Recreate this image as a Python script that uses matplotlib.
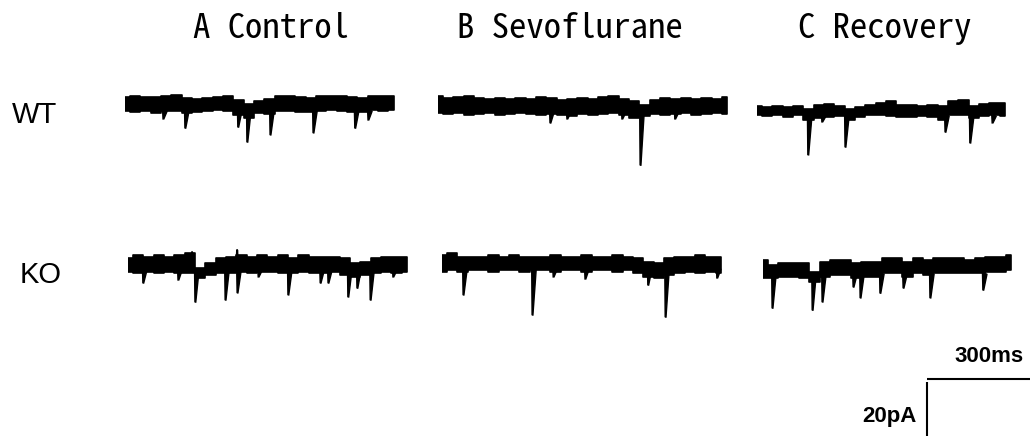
import numpy as np
import matplotlib
matplotlib.use("Agg")
import matplotlib.pyplot as plt

# traces: envelope of the baseline noise (pA, sampled every 25 ms) + events (ms, pA)
STEP_MS = 25

WT_CTRL_TOP = [2.4, 2.6, 2.4, 2.4, 2.6, 2.9, 2.1, 1.8, 2.1, 2.4, 2.6, 1.5, 0.3, 1.2,
               1.8, 2.6, 2.6, 2.4, 2.1, 2.6, 2.6, 2.6, 2.4, 2.1, 2.6, 2.6, 2.6]
WT_CTRL_BOT = [-1.8, -2.1, -1.8, -2.4, -1.8, -1.8, -2.4, -2.1, -1.8, -1.5, -1.8, -2.9, -3.8, -2.4,
               -2.6, -1.8, -1.8, -2.1, -2.1, -1.8, -1.5, -1.8, -2.1, -2.1, -1.5, -1.8, -1.5]
WT_CTRL_EV = [(92, -4.1), (145, -6.8), (273, -6.5), (295, -10.9), (351, -8.8),
              (455, -8.2), (556, -6.8), (588, -4.4)]

WT_SEVO_TOP = [2.9, 2.4, 2.6, 2.9, 2.4, 2.1, 2.4, 2.1, 2.4, 2.1, 2.6, 2.4, 1.8, 2.1, 2.4,
               2.1, 2.6, 2.9, 2.1, 1.5, 0.3, 1.8, 2.4, 2.1, 2.4, 2.1, 2.4, 2.1, 2.6]
WT_SEVO_BOT = [-2.1, -2.4, -2.1, -2.6, -2.4, -2.1, -2.6, -2.4, -2.1, -2.4, -2.6, -2.4, -2.6, -2.9, -2.4,
               -2.6, -2.4, -2.1, -2.6, -3.5, -3.0, -2.4, -2.6, -2.4, -2.1, -2.6, -2.4, -2.1, -2.4]
WT_SEVO_EV = [(271, -5.0), (312, -3.8), (445, -3.8), (489, -17.4), (573, -3.8)]

WT_REC_TOP = [1.2, 0.9, 1.2, 0.9, 1.2, 0.3, 1.5, 1.8, 1.2, 0.3, 0.9, 1.5, 2.1,
              2.6, 1.5, 1.5, 1.2, 1.5, 1.2, 2.6, 2.9, 1.2, 1.8, 2.1, 2.1]
WT_REC_BOT = [-1.5, -1.8, -1.5, -2.1, -1.5, -2.9, -2.4, -2.1, -1.8, -2.9, -2.1, -1.5, -1.5,
              -1.8, -2.1, -2.1, -1.8, -2.1, -2.9, -1.5, -1.5, -2.4, -1.8, -1.5, -1.8]
WT_REC_EV = [(123, -13.2), (157, -3.5), (213, -10.9), (455, -6.5), (515, -9.7), (569, -3.8)]

KO_CTRL_TOP = [1.7, 2.6, 2.1, 2.6, 2.1, 2.6, 3.1, -1.3, 0.2, 1.7, 2.1, 2.6, 2.1, 2.6,
               2.1, 2.6, 1.7, 2.6, 2.1, 2.1, 2.1, 1.7, 0.2, 0.7, 1.7, 2.1, 2.1, 2.1]
KO_CTRL_BOT = [-2.3, -2.7, -2.3, -2.7, -2.3, -2.7, -2.7, -4.2, -3.2, -2.7, -2.7, -2.3, -2.7, -2.3,
               -2.3, -2.7, -2.7, -2.3, -2.7, -2.7, -2.3, -3.2, -3.7, -3.2, -2.7, -2.3, -2.7, -2.3]
KO_CTRL_EV = [(36, -5.6), (121, -4.7), (155, 3.5), (162, -11.2), (235, -10.6), (264, -8.5),
              (264, 4.1), (315, -3.8), (387, -9.1), (465, -5.6), (484, -5.6), (532, -9.7),
              (554, -7.1), (586, -10.6), (641, -3.8)]

KO_SEVO_TOP = [2.4, 2.9, 1.9, 1.9, 1.9, 2.4, 1.9, 2.4, 1.9, 1.9, 1.9, 2.4, 1.9, 1.9,
               2.4, 1.9, 1.9, 2.4, 1.9, 1.4, 0.4, -0.1, 1.4, 1.9, 1.9, 2.4, 1.9, 1.9]
KO_SEVO_BOT = [-2.6, -2.1, -2.6, -2.1, -2.1, -2.6, -2.1, -2.1, -2.6, -2.1, -2.1, -2.6, -2.1, -2.1,
               -2.6, -2.1, -2.1, -2.6, -2.1, -3.0, -4.0, -4.5, -3.5, -3.0, -2.6, -3.0, -2.6, -3.0]
KO_SEVO_EV = [(51, -9.4), (218, -15.3), (269, -4.1), (346, -4.7), (498, -6.5), (540, -15.9), (665, -4.4)]

KO_REC_TOP = [2.4, 0.9, 1.4, 1.4, 1.4, -1.1, 1.9, 2.4, 2.4, 1.4, 1.9, 1.9, 2.9,
              2.9, 1.9, 2.9, 2.4, 2.9, 2.9, 2.9, 2.4, 2.9, 3.3, 3.3, 3.8]
KO_REC_BOT = [-3.0, -3.0, -2.6, -2.6, -3.0, -4.0, -2.6, -2.1, -2.1, -3.0, -2.6, -2.6, -1.6,
              -1.6, -2.6, -1.6, -2.1, -1.6, -1.6, -1.6, -1.6, -1.6, -1.1, -1.1, -0.6]
KO_REC_EV = [(22, -11.8), (119, -12.4), (143, -10.0), (218, -5.6), (235, -8.8),
             (283, -7.4), (339, -5.9), (404, -8.8), (532, -6.5)]

TITLES = ["A Control", "B Sevoflurane", "C Recovery"]
ROWS = ["WT", "KO"]
SCALE_MS = 300
SCALE_PA = 20

# layout (pixels)
W, H = 1030, 436
MS_PX = 0.4133   # px per ms
PA_PX = 3.4      # px per pA
# (trace start x, baseline y) for each panel
PANELS = [
    (WT_CTRL_TOP, WT_CTRL_BOT, WT_CTRL_EV, 125, 105),
    (WT_SEVO_TOP, WT_SEVO_BOT, WT_SEVO_EV, 438, 106),
    (WT_REC_TOP, WT_REC_BOT, WT_REC_EV, 757, 110),
    (KO_CTRL_TOP, KO_CTRL_BOT, KO_CTRL_EV, 128, 264),
    (KO_SEVO_TOP, KO_SEVO_BOT, KO_SEVO_EV, 442, 263),
    (KO_REC_TOP, KO_REC_BOT, KO_REC_EV, 763, 268),
]

fig = plt.figure(figsize=(W / 100, H / 100), dpi=100)


def px_axes(left, top, width, height):
    ax = fig.add_axes([left / W, 1 - (top + height) / H, width / W, height / H])
    ax.set_axis_off()
    return ax


for top, bot, events, x0, yc in PANELS:
    ax = px_axes(x0, yc - 40, 300, 110)
    ax.set_xlim(0, 300 / MS_PX)
    ax.set_ylim(-70 / PA_PX, 40 / PA_PX)
    t = np.arange(len(top)) * STEP_MS
    ax.fill_between(t, bot, top, step="mid", color="black", lw=1.2, edgecolor="black")
    for te, amp in events:
        if amp < 0:
            # fast onset, short decay back into the noise band
            ax.fill([te - 1, te, te + 2, te + 10], [-1.5, amp, amp, -1.8],
                    color="black", lw=1.0)
        else:
            ax.plot([te - 1, te, te + 1.5], [1.5, amp, 1.5], color="black", lw=1.5)

# scale bar
sb = px_axes(927, 379, 200, 100)
sb.set_xlim(0, 200 / MS_PX)
sb.set_ylim(-100 / PA_PX, 0)
sb.plot([0, SCALE_MS], [0, 0], color="black", lw=1.5, clip_on=False, solid_capstyle="butt")
sb.plot([0, 0], [-0.8, -0.8 - SCALE_PA], color="black", lw=1.5, clip_on=False,
        solid_capstyle="butt")
fig.text(989 / W, 1 - 356 / H, f"{SCALE_MS}ms", ha="center", va="center",
         fontsize=16, fontweight="bold", family=["Liberation Sans", "DejaVu Sans"])
fig.text(917 / W, 1 - 416 / H, f"{SCALE_PA}pA", ha="right", va="center",
         fontsize=16, fontweight="bold", family=["Liberation Sans", "DejaVu Sans"])

mono = ["Noto Sans Mono CJK JP", "DejaVu Sans Mono"]
for title, x in zip(TITLES, [193, 457, 798]):
    fig.text(x / W, 1 - 28 / H, title, ha="left", va="center", fontsize=25, family=mono)

for row, x, y in zip(ROWS, [12, 20], [115, 275]):
    fig.text(x / W, 1 - y / H, row, ha="left", va="center", fontsize=21,
             family="Liberation Sans")

fig.savefig("out.png", dpi=100)
